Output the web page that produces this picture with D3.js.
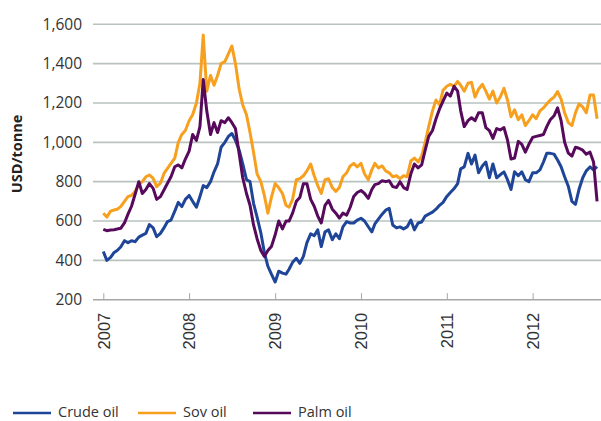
<!DOCTYPE html>
<html>
<head>
<meta charset="utf-8">
<script src="https://cdn.jsdelivr.net/npm/d3@7"></script>
<style>
  body { margin: 0; background: #fff; }
</style>
</head>
<body>
<script>
// semi-monthly readings from 1 Jan 2007 (1st and 16th of each month)
var startYear = 2007;
var yTicks = [200, 400, 600, 800, 1000, 1200, 1400, 1600];
var xTickYears = [2007, 2008, 2009, 2010, 2011, 2012];
var seriesNames = ["Crude oil", "Sov oil", "Palm oil"];
var seriesColors = ["#1e4597", "#f7a01f", "#570a5c"];

var crude = [
  445, 400, 415, 440, 450, 468, 500, 490, 500, 495,
  518, 528, 537, 582, 565, 520, 537, 565, 597, 605,
  650, 695, 673, 710, 730, 700, 670, 725, 780, 770,
  800, 850, 890, 975, 1000, 1030, 1045, 1010, 960, 890,
  810, 800, 690, 620, 540, 440, 370, 330, 290, 345,
  335, 330, 355, 390, 410, 385, 420, 490, 535, 525,
  555, 470, 545, 555, 505, 535, 510, 570, 597, 590,
  590, 605, 614, 600, 571, 545, 585, 610, 635, 655,
  664, 580, 565, 570, 560, 570, 605, 555, 590, 595,
  625, 635, 645, 660, 680, 695, 725, 745, 765, 790,
  865, 875, 944, 890, 935, 845, 880, 900, 820, 890,
  820, 835, 850, 810, 760, 850, 830, 850, 810, 800,
  845, 845, 860, 900, 944, 944, 940, 910, 876, 825,
  775, 700, 685, 760, 820, 855, 875, 860, 876
];

var sov = [
  639, 620, 650, 656, 660, 673, 700, 724, 730, 750,
  785, 800, 825, 834, 817, 775, 792, 842, 868, 893,
  920, 1000, 1040, 1060, 1110, 1140, 1200, 1300, 1545, 1260,
  1340, 1290, 1340, 1400, 1410, 1450, 1490, 1400, 1270, 1190,
  1140, 1050, 950, 840, 800, 730, 640, 720, 790, 770,
  740, 680, 670, 710, 810, 815, 830, 855, 890, 830,
  780, 740, 810, 815, 770, 750, 770, 825, 845, 880,
  893, 875, 893, 840, 810, 860, 893, 870, 880, 855,
  845, 825, 830, 815, 830, 825, 905, 920, 900, 930,
  1000, 1080, 1160, 1215, 1190, 1265, 1285, 1295, 1285, 1310,
  1290, 1260, 1300, 1305, 1230, 1270, 1295, 1260, 1220, 1260,
  1200, 1230, 1275, 1215, 1130, 1165, 1115, 1140, 1085, 1110,
  1140, 1120, 1160, 1175, 1195, 1215, 1230, 1258, 1220, 1150,
  1100, 1085, 1150, 1195, 1180, 1150, 1240, 1240, 1120
];

var palm = [
  558, 551, 554, 556, 559, 563, 590, 635, 675, 735,
  800, 740, 760, 790, 766, 710, 724, 758, 792, 825,
  876, 885, 870, 915, 955, 1040, 1010, 1080, 1320, 1160,
  1040, 1100, 1050, 1110, 1100, 1125, 1100, 1070, 940, 820,
  740, 680, 580, 510, 450, 420, 450, 470, 530, 600,
  560, 600, 600, 640, 700, 720, 790, 790, 710, 675,
  625, 590, 680, 705, 660, 640, 615, 640, 630, 670,
  725, 745, 755, 740, 715, 760, 785, 790, 805, 800,
  805, 775, 770, 800, 770, 760, 840, 890, 870, 885,
  960, 1030, 1060, 1120, 1170, 1210, 1250, 1235, 1285, 1260,
  1160, 1080, 1110, 1125, 1110, 1150, 1150, 1075, 1060, 1020,
  1070, 1063, 1075, 1012, 915, 920, 1005, 990, 950, 990,
  1025, 1030, 1035, 1040, 1080, 1115, 1135, 1175, 1110, 1000,
  945, 930, 975, 970, 960, 940, 950, 900, 700
];

var fechas = crude.map(function (d, i) {
  return new Date(startYear, Math.floor(i / 2), i % 2 ? 16 : 1);
});

var ancho = 601;
var altura = 421;

var svg = d3.select("body")
  .append("svg")
  .attr("width", ancho)
  .attr("height", altura)
  .style("display", "block");

var escalaX = d3.scaleTime()
  .domain([new Date(2007, 0, 1), new Date(2013, 0, 1)])
  .range([103.3, 618.7]);

var escalaY = d3.scaleLinear()
  .domain([200, 1600])
  .range([299.7, 24.3]);

// gridlines
svg.append("g")
  .selectAll("line")
  .data(yTicks.slice(1))
  .join("line")
  .attr("x1", 93)
  .attr("x2", ancho)
  .attr("y1", function (d) { return escalaY(d); })
  .attr("y2", function (d) { return escalaY(d); })
  .attr("stroke", "#b9c3bf")
  .attr("stroke-width", 1.6);

// y labels
svg.append("g")
  .selectAll("text")
  .data(yTicks)
  .join("text")
  .attr("x", 82)
  .attr("y", function (d) { return escalaY(d); })
  .attr("dy", "0.35em")
  .attr("text-anchor", "end")
  .style("font-family", "'Open Sans', sans-serif")
  .style("font-size", "15.5px")
  .style("fill", "#333")
  .text(function (d) { return d3.format(",")(d); });

// y title
svg.append("text")
  .attr("transform", "translate(22,154) rotate(-90)")
  .attr("text-anchor", "middle")
  .style("font-family", "'Open Sans', sans-serif")
  .style("font-weight", "bold")
  .style("font-size", "14.5px")
  .style("fill", "#222")
  .text("USD/tonne");

// x axis
var ejeX = d3.axisBottom(escalaX)
  .tickValues(xTickYears.map(function (y) { return new Date(y, 0, 1); }))
  .tickSize(0)
  .tickFormat(d3.timeFormat("%Y"));

var gx = svg.append("g")
  .attr("transform", "translate(0," + escalaY(200) + ")")
  .call(ejeX);

gx.select(".domain").remove();

gx.append("line")
  .attr("x1", 93)
  .attr("x2", ancho)
  .attr("stroke", "#a6a6a6")
  .attr("stroke-width", 1.6);

gx.selectAll(".tick")
  .append("line")
  .attr("y1", 0)
  .attr("y2", -6.5)
  .attr("stroke", "#a6a6a6")
  .attr("stroke-width", 1);

gx.selectAll(".tick text")
  .attr("transform", "rotate(-90)")
  .attr("x", -13)
  .attr("y", 0)
  .attr("dy", "0.35em")
  .attr("text-anchor", "end")
  .style("font-family", "'Liberation Sans', Arial, sans-serif")
  .style("font-size", "16.5px")
  .style("fill", "#333");

// lines
var linea = function (valores) {
  return d3.line()
    .x(function (d, i) { return escalaX(fechas[i]); })
    .y(function (d) { return escalaY(d); })(valores);
};

[crude, sov, palm].forEach(function (valores, k) {
  svg.append("path")
    .attr("d", linea(valores))
    .attr("fill", "none")
    .attr("stroke", seriesColors[k])
    .attr("stroke-width", 3)
    .attr("stroke-linejoin", "round");
});

// legend
var leyendaX = [13, 138, 253];
var leyenda = svg.append("g");
seriesNames.forEach(function (nombre, k) {
  leyenda.append("line")
    .attr("x1", leyendaX[k])
    .attr("x2", leyendaX[k] + 38)
    .attr("y1", 413)
    .attr("y2", 413)
    .attr("stroke", seriesColors[k])
    .attr("stroke-width", 2.6);
  leyenda.append("text")
    .attr("x", leyendaX[k] + 45)
    .attr("y", 417)
    .style("font-family", "'Open Sans', sans-serif")
    .style("font-size", "14.5px")
    .style("fill", "#333")
    .text(nombre);
});
</script>
</body>
</html>
